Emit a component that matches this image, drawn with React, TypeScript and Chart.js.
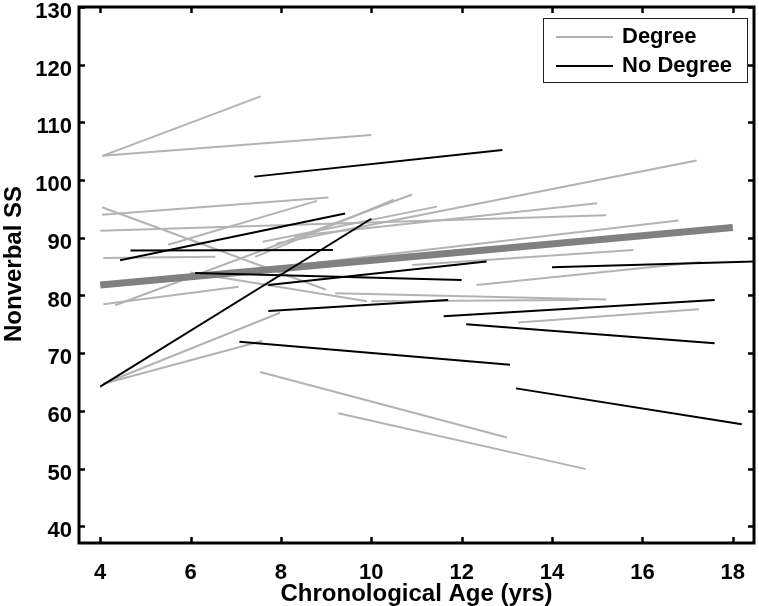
import React, { useEffect, useRef } from "react";
import { Chart, registerables } from "chart.js";

Chart.register(...registerables);

// ---- Data ----
const xTickValues = [4, 6, 8, 10, 12, 14, 16, 18];
const yTickValues = [40, 50, 60, 70, 80, 90, 100, 110, 120, 130];

// Degree group: individual trajectories (start -> end)
const degreeStartAge = [4.05, 4.05, 4.04, 4.04, 4.0, 4.07, 6.0, 4.07, 4.33, 4.07, 4.07, 7.54, 9.27, 7.43, 5.5, 7.6, 7.9, 8.3, 8.0, 10.9, 9.2, 10.0, 12.33, 13.25];
const degreeStartSS = [104.2, 104.2, 94.0, 95.3, 91.2, 86.5, 84.0, 78.5, 78.3, 64.7, 64.7, 66.75, 59.6, 86.7, 88.8, 89.3, 89.0, 90.3, 85.0, 85.3, 80.4, 79.0, 81.8, 75.3];
const degreeEndAge = [7.55, 10.0, 9.05, 9.0, 15.2, 6.55, 9.9, 7.06, 10.9, 7.98, 7.58, 13.0, 14.75, 10.5, 8.8, 11.45, 17.2, 15.0, 16.8, 15.8, 15.2, 14.6, 17.3, 17.25];
const degreeEndSS = [114.5, 107.8, 97.0, 81.0, 93.9, 86.7, 79.0, 81.5, 97.5, 77.0, 72.1, 55.4, 49.9, 96.6, 96.4, 95.4, 103.4, 96.0, 93.0, 87.9, 79.3, 79.2, 85.8, 77.6];

// No Degree group
const noDegreeStartAge = [7.41, 4.44, 4.67, 4.0, 7.72, 6.1, 7.72, 7.08, 14.0, 11.6, 12.1, 13.2];
const noDegreeStartSS = [100.6, 86.1, 87.8, 64.2, 81.8, 83.9, 77.3, 72.0, 84.9, 76.4, 75.0, 63.9];
const noDegreeEndAge = [12.9, 9.42, 9.15, 10.0, 12.55, 12.0, 11.7, 13.07, 18.47, 17.6, 17.6, 18.2];
const noDegreeEndSS = [105.2, 94.2, 87.9, 93.3, 85.9, 82.7, 79.2, 68.0, 85.9, 79.2, 71.7, 57.7];

// Overall fit line
const fitAge = [4, 18];
const fitSS = [81.8, 91.8];

const legendLabels = ["Degree", "No Degree"];
const xTitle = "Chronological Age (yrs)";
const yTitle = "Nonverbal SS";

const FONT = "'Liberation Sans', Arial, Helvetica, sans-serif";
const GRAY = "#b3b3b3";
const FIT_GRAY = "#808080";

const segDatasets = (
  sx: number[], sy: number[], ex: number[], ey: number[], color: string, order: number
) =>
  sx.map((_, i) => ({
    data: [
      { x: sx[i], y: sy[i] },
      { x: ex[i], y: ey[i] },
    ],
    borderColor: color,
    backgroundColor: color,
    borderWidth: 2,
    pointRadius: 0,
    showLine: true,
    fill: false,
    tension: 0,
    order,
    borderCapStyle: "butt" as const,
  }));

const frameTicksPlugin = {
  id: "frameTicks",
  afterDatasetsDraw(chart: any) {
    const { ctx, chartArea: a, scales } = chart;
    const len = 6;
    ctx.save();
    ctx.strokeStyle = "#000";
    ctx.lineWidth = 2.5;
    ctx.beginPath();
    xTickValues.forEach((v) => {
      const px = Math.round(scales.x.getPixelForValue(v)) + 0.5;
      ctx.moveTo(px, a.bottom);
      ctx.lineTo(px, a.bottom - len);
      ctx.moveTo(px, a.top);
      ctx.lineTo(px, a.top + len);
    });
    yTickValues.forEach((v) => {
      const py = Math.round(scales.y.getPixelForValue(v)) + 0.5;
      ctx.moveTo(a.left, py);
      ctx.lineTo(a.left + len, py);
      ctx.moveTo(a.right, py);
      ctx.lineTo(a.right - len, py);
    });
    ctx.stroke();
    ctx.lineWidth = 3;
    ctx.strokeRect(a.left, a.top, a.right - a.left, a.bottom - a.top);

    // y tick labels (sit slightly below their tick marks in the reference)
    ctx.fillStyle = "#000";
    ctx.font = `bold 22px ${FONT}`;
    ctx.textAlign = "right";
    ctx.textBaseline = "middle";
    yTickValues.forEach((v) => {
      const py = scales.y.getPixelForValue(v);
      ctx.fillText(String(v), a.left - 7, py + 5);
    });

    // axis titles
    ctx.font = `bold 24px ${FONT}`;
    ctx.textAlign = "center";
    ctx.textBaseline = "alphabetic";
    ctx.fillText(xTitle, (a.left + a.right) / 2, 601);
    ctx.save();
    ctx.translate(21, 264);
    ctx.rotate(-Math.PI / 2);
    ctx.fillText(yTitle, 0, 0);
    ctx.restore();
    ctx.restore();
  },
  afterDraw(chart: any) {
    const { ctx, chartArea: a } = chart;
    const bx = a.right - 211;
    const by = a.top + 11;
    const bw = 204;
    const bh = 64;
    ctx.save();
    ctx.fillStyle = "#fff";
    ctx.fillRect(bx, by, bw, bh);
    ctx.strokeStyle = "#222";
    ctx.lineWidth = 1;
    ctx.strokeRect(bx + 0.5, by + 0.5, bw, bh);
    const colors = [GRAY, "#000"];
    const rows = [by + 19, by + 48];
    ctx.font = `bold 22px ${FONT}`;
    ctx.textBaseline = "middle";
    ctx.textAlign = "left";
    legendLabels.forEach((lab, i) => {
      ctx.strokeStyle = colors[i];
      ctx.lineWidth = 2;
      ctx.beginPath();
      ctx.moveTo(bx + 13, rows[i]);
      ctx.lineTo(bx + 70, rows[i]);
      ctx.stroke();
      ctx.fillStyle = "#000";
      ctx.fillText(lab, bx + 79, rows[i]);
    });
    ctx.restore();
  },
};

export default function App() {
  const canvasRef = useRef<HTMLCanvasElement | null>(null);

  useEffect(() => {
    document.body.style.margin = "0";
    const canvas = canvasRef.current;
    if (!canvas) return;

    const datasets = [
      ...segDatasets(noDegreeStartAge, noDegreeStartSS, noDegreeEndAge, noDegreeEndSS, "#000", 0),
      {
        data: fitAge.map((x, i) => ({ x, y: fitSS[i] })),
        borderColor: FIT_GRAY,
        backgroundColor: FIT_GRAY,
        borderWidth: 7,
        pointRadius: 0,
        showLine: true,
        fill: false,
        order: 1,
        borderCapStyle: "butt" as const,
      },
      ...segDatasets(degreeStartAge, degreeStartSS, degreeEndAge, degreeEndSS, GRAY, 2),
    ];

    const chart = new Chart(canvas, {
      type: "line",
      data: { datasets: datasets as any },
      options: {
        animation: false,
        responsive: true,
        maintainAspectRatio: false,
        events: [],
        layout: { padding: { top: 7, right: 5, left: 0, bottom: 0 } },
        plugins: {
          legend: { display: false },
          tooltip: { enabled: false },
        },
        scales: {
          x: {
            type: "linear",
            min: 3.53,
            max: 18.47,
            afterBuildTicks: (s: any) => {
              s.ticks = xTickValues.map((v) => ({ value: v }));
            },
            afterFit: (s: any) => {
              s.height = 63;
              s.paddingLeft = 0;
              s.paddingRight = 0;
            },
            grid: { display: false, drawTicks: false },
            border: { display: false },
            ticks: {
              color: "#000",
              padding: 17,
              autoSkip: false,
              maxRotation: 0,
              font: { family: FONT, size: 22, weight: "bold" },
            },
            title: { display: false },
          },
          y: {
            type: "linear",
            min: 37.1,
            max: 130,
            afterBuildTicks: (s: any) => {
              s.ticks = yTickValues.map((v) => ({ value: v }));
            },
            afterFit: (s: any) => {
              s.width = 79;
              s.paddingTop = 0;
              s.paddingBottom = 0;
            },
            grid: { display: false, drawTicks: false },
            border: { display: false },
            ticks: {
              display: false,
              font: { family: FONT, size: 22, weight: "bold", lineHeight: 0.5 },
            },
            title: { display: false },
          },
        },
      } as any,
      plugins: [frameTicksPlugin],
    });

    return () => chart.destroy();
  }, []);

  return (
    <div style={{ width: 759, height: 606, position: "relative" }}>
      <canvas ref={canvasRef} />
    </div>
  );
}
